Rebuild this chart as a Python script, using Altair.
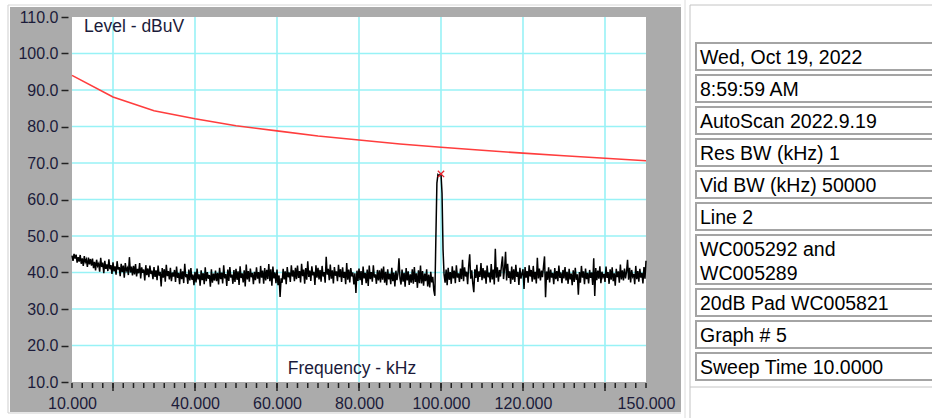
import altair as alt
import pandas as pd

# ---------------- data ----------------
limit_freq = [10, 20, 30, 40, 50, 60, 70, 80, 90, 100, 110, 120, 130, 140, 150]
limit_level = [94.0, 88.1, 84.3, 82.1, 80.2, 78.8, 77.4, 76.3, 75.2, 74.3, 73.5, 72.7, 72.0, 71.3, 70.6]

trace_start = 10.0
trace_step = 0.25
trace_level = [
    44.6, 43.2, 45.1, 43.8, 44.9, 42.7, 44.2, 43.0, 44.8, 42.4, 43.9, 41.8, 44.5, 42.9, 43.6, 41.5, 44.1, 42.2, 43.7, 41.9,
    43.8, 41.2, 42.9, 40.6, 43.5, 41.8, 42.4, 40.2, 44.0, 41.5, 42.7, 39.8, 43.2, 41.0, 42.2, 40.4, 43.6, 40.9, 42.0, 39.6,
    42.8, 40.3, 41.7, 39.4, 43.1, 40.8, 41.5, 39.0, 42.4, 40.1, 41.9, 38.6, 42.6, 40.5, 41.2, 39.3, 44.2, 40.0, 41.6, 39.2,
    41.8, 39.5, 42.3, 38.9, 41.0, 39.8, 42.6, 38.4, 41.4, 39.9, 40.8, 37.8, 42.0, 39.3, 41.1, 38.7, 41.9, 39.6, 40.5, 38.2,
    41.5, 38.8, 40.6, 37.9, 41.9, 39.1, 40.2, 36.2, 41.2, 38.6, 40.9, 37.5, 42.1, 39.0, 40.4, 38.1, 41.3, 37.6, 40.0, 38.9,
    40.7, 37.4, 41.6, 38.5, 39.9, 36.8, 41.0, 38.2, 40.3, 37.1, 42.4, 38.7, 39.6, 36.9, 40.8, 37.8, 41.2, 38.0, 39.4, 36.5,
    40.2, 37.3, 41.1, 38.1, 39.5, 36.4, 40.6, 37.9, 39.8, 36.8, 41.4, 37.6, 40.1, 38.3, 39.3, 36.1, 40.9, 37.2, 39.7, 37.8,
    40.5, 37.6, 39.9, 36.7, 41.3, 38.2, 40.0, 37.0, 42.0, 38.4, 39.6, 36.3, 40.8, 37.7, 41.5, 38.6, 39.4, 36.9, 40.7, 37.4,
    41.0, 38.0, 40.3, 36.6, 41.7, 38.5, 39.8, 37.3, 40.6, 36.2, 42.2, 38.1, 40.4, 37.5, 41.1, 38.7, 39.9, 36.8, 40.2, 37.9,
    41.4, 38.3, 40.1, 37.0, 41.8, 38.6, 40.5, 36.9, 41.2, 37.8, 40.7, 38.2, 42.3, 37.6, 40.9, 36.4, 41.6, 38.4, 40.0, 37.1,
    40.8, 36.5, 39.2, 33.3, 38.4, 37.2, 41.0, 38.1, 40.3, 36.8, 41.5, 38.7, 40.0, 37.4, 42.0, 38.9, 40.6, 37.6, 41.3, 38.2,
    41.9, 38.5, 40.4, 37.3, 42.4, 39.0, 40.8, 36.9, 41.2, 38.0, 43.1, 38.8, 40.5, 37.7, 41.7, 39.2, 40.2, 36.6, 42.0, 38.6,
    41.3, 38.1, 40.7, 37.5, 41.8, 38.9, 40.1, 37.2, 44.3, 39.4, 41.0, 37.9, 42.2, 38.3, 40.6, 37.0, 41.5, 39.1, 40.3, 37.6,
    42.1, 38.7, 40.9, 37.4, 41.4, 38.5, 40.2, 36.8, 42.6, 38.0, 40.8, 37.3, 41.2, 38.9, 40.0, 36.7, 39.8, 34.4, 40.5, 37.7,
    41.1, 37.9, 40.4, 36.6, 41.6, 38.4, 39.9, 37.1, 40.8, 36.3, 41.9, 38.2, 40.1, 37.5, 42.0, 38.6, 39.5, 36.9, 40.7, 37.8,
    40.6, 37.3, 41.1, 38.0, 41.6, 37.2, 40.2, 36.5, 40.9, 38.1, 39.7, 36.8, 41.3, 37.6, 40.0, 36.2, 40.5, 37.9, 39.6, 43.9,
    38.4, 36.7, 40.8, 37.5, 39.9, 36.1, 41.2, 37.8, 40.3, 36.6, 39.5, 37.2, 40.9, 36.9, 41.5, 37.4, 39.8, 35.8, 40.6, 37.1,
    41.9, 37.0, 40.4, 36.4, 39.7, 37.6, 40.9, 36.2, 39.4, 35.9, 40.2, 37.3, 38.8, 35.1, 33.6, 49.5, 64.5, 66.8, 66.5, 66.9,
    67.0, 61.7, 46.2, 39.4, 37.2, 40.8, 36.5, 41.3, 38.0, 40.1, 36.9, 41.7, 38.4, 40.5, 37.1, 42.0, 38.6, 39.8, 37.4, 41.1,
    38.2, 43.5, 37.6, 41.4, 38.9, 40.2, 36.8, 41.8, 45.0, 38.3, 40.6, 37.0, 34.6, 40.9, 38.5, 42.1, 37.4, 40.3, 38.8, 42.6,
    37.9, 41.2, 38.4, 40.6, 36.9, 41.9, 38.7, 40.0, 37.3, 42.3, 38.1, 40.8, 36.7, 46.5, 38.6, 41.4, 37.5, 40.7, 38.9, 42.0,
    44.4, 38.2, 41.0, 45.7, 37.8, 42.4, 38.5, 40.3, 36.9, 41.6, 38.0, 40.9, 37.4, 42.1, 38.8, 40.2, 36.6, 41.3, 38.3, 39.7,
    40.9, 35.5, 41.5, 38.6, 40.4, 37.2, 42.0, 38.9, 40.7, 37.5, 41.8, 38.1, 40.2, 37.0, 44.0, 38.4, 41.1, 37.8, 40.5, 38.7,
    41.6, 44.4, 33.2, 40.3, 38.0, 41.4, 37.3, 40.8, 38.6, 39.9, 36.8, 41.2, 38.2, 40.4, 37.6, 41.9, 38.5, 40.0, 37.1, 40.7,
    38.4, 41.5, 37.8, 40.2, 36.9, 41.0, 38.1, 39.7, 36.5, 40.6, 37.4, 41.3, 38.0, 39.5, 33.9, 40.1, 37.2, 41.8, 38.6, 40.3,
    36.8, 41.1, 38.2, 39.9, 37.0, 40.7, 38.5, 40.0, 36.6, 43.9, 33.6, 41.2, 37.9, 40.5, 38.3, 41.7, 37.1, 40.2, 38.8, 39.6,
    37.4, 41.6, 38.5, 40.1, 36.9, 40.9, 38.0, 41.4, 37.6, 39.8, 36.4, 41.0, 38.7, 40.3, 37.2, 42.2, 38.1, 40.6, 37.8, 41.1,
    38.4, 40.2, 43.5, 38.0, 41.3, 37.3, 40.7, 38.9, 39.6, 36.8, 41.8, 38.2, 40.4, 37.5, 41.0, 38.6, 39.9, 37.0, 41.5, 38.3,
    43.2,
]

peak_freq = [100.0]
peak_level = [67.0]

y_tick_values = [10, 20, 30, 40, 50, 60, 70, 80, 90, 100, 110]
y_grid_values = [20, 30, 40, 50, 60, 70, 80, 90, 100]
x_label_values = [10, 40, 60, 80, 100, 120, 150]
x_grid_values = [20, 40, 60, 80, 100, 120, 140]
x_minor_ticks = [10 + 2.5 * i for i in range(57)]

y_title = "Level - dBuV"
x_title = "Frequency - kHz"

info_rows = [
    "Wed, Oct 19, 2022",
    "8:59:59 AM",
    "AutoScan 2022.9.19",
    "Res BW (kHz) 1",
    "Vid BW (kHz) 50000",
    "Line 2",
    "WC005292 and\nWC005289",
    "20dB Pad WC005821",
    "Graph # 5",
    "Sweep Time 10.0000",
]

# ---------------- styling ----------------
CYAN = "#98f2f6"
FRAME = "#ababab"
LABEL = "#1b1b3a"
FONT = "Liberation Sans"

W, H = 574, 365
PAD = {"left": 72, "top": 17, "right": 932 - 72 - W, "bottom": 418 - 17 - H}

xs = alt.Scale(domain=[10, 150], nice=False, zero=False)
ys = alt.Scale(domain=[10, 110], nice=False, zero=False)

trace_df = pd.DataFrame({
    "freq": [trace_start + trace_step * i for i in range(len(trace_level))],
    "level": trace_level,
})
limit_df = pd.DataFrame({"freq": limit_freq, "level": limit_level})
peak_df = pd.DataFrame({"freq": peak_freq, "level": peak_level})

x_axis = alt.Axis(values=x_label_values, format=".3f", grid=False, domain=False,
                  ticks=True, tickSize=0, labelPadding=13, labelFont=FONT,
                  labelFontSize=16, labelColor=LABEL, labelFlush=False,
                  labelOverlap=False, labelBound=False, title=None)
y_axis = alt.Axis(values=y_tick_values, format=".1f", grid=False, domain=False,
                  ticks=True, tickSize=7, tickWidth=1.5, tickColor="#222222",
                  offset=4, labelPadding=3, labelFont=FONT, labelFontSize=16,
                  labelColor=LABEL, labelFlush=False, labelOverlap=False,
                  labelBound=False, title=None)


def X(field):
    return alt.X(field, scale=xs, axis=x_axis)


def Y(field):
    return alt.Y(field, scale=ys, axis=y_axis)


trace = alt.Chart(trace_df).mark_line(color="black", strokeWidth=1.5).encode(
    x=X("freq:Q"), y=Y("level:Q"))

grid_x = alt.Chart(pd.DataFrame({"f": x_grid_values})).mark_rule(
    color=CYAN, strokeWidth=1.6).encode(x=X("f:Q"))
grid_y = alt.Chart(pd.DataFrame({"v": y_grid_values})).mark_rule(
    color=CYAN, strokeWidth=1.6).encode(y=Y("v:Q"))

limit = alt.Chart(limit_df).mark_line(color="#ff3d3d", strokeWidth=1.6).encode(
    x=X("freq:Q"), y=Y("level:Q"))

peak = alt.Chart(peak_df).mark_point(
    shape="M-1,-1L1,1M1,-1L-1,1", filled=False, color="#e8202a",
    size=40, strokeWidth=1.3, opacity=1).encode(x=X("freq:Q"), y=Y("level:Q"))

title_y = alt.Chart(pd.DataFrame({"t": [y_title]})).mark_text(
    align="left", baseline="middle", font=FONT, fontSize=17.5, color=LABEL).encode(
    x=alt.value(12), y=alt.value(10), text="t:N")
title_x = alt.Chart(pd.DataFrame({"t": [x_title]})).mark_text(
    align="center", baseline="middle", font=FONT, fontSize=17.5, color=LABEL).encode(
    x=alt.value(280), y=alt.value(352), text="t:N")

minor = alt.Chart(pd.DataFrame({"f": x_minor_ticks})).mark_rule(
    color="#222222", strokeWidth=1.5).encode(
    x=X("f:Q"), y=alt.value(H + 1), y2=alt.value(H + 6))
major = alt.Chart(pd.DataFrame({"f": x_grid_values})).mark_rule(
    color="#222222", strokeWidth=1.5).encode(
    x=X("f:Q"), y=alt.value(H + 1), y2=alt.value(H + 9))

one = pd.DataFrame({"k": [0]})


def rect(x0, x1, y0, y1, fill):
    return alt.Chart(one).mark_rect(fill=fill).encode(
        x=alt.value(x0), x2=alt.value(x1), y=alt.value(y0), y2=alt.value(y1))


def line(x0, x1, y0, y1, color):
    return alt.Chart(one).mark_rule(color=color, strokeWidth=1).encode(
        x=alt.value(x0), x2=alt.value(x1), y=alt.value(y0), y2=alt.value(y1))


L, T = PAD["left"], PAD["top"]
margins = [
    rect(-L, -L + 10, -T, 418 - T, "white"),          # left strip
    rect(-L, 681 - L, -T, 7 - T, "white"),            # top strip
    rect(-L, 681 - L, 412 - T, 418 - T, "white"),     # bottom strip
    rect(681 - L, 932 - L, -T, 418 - T, "white"),     # right panel
    line(8 - L, 8 - L, 5 - T, 413 - T, "#cfcfcf"),
    line(8 - L, 681 - L, 5 - T, 5 - T, "#d6d6d6"),
    line(8 - L, 681 - L, 413 - T, 413 - T, "#cfcfcf"),
    line(685 - L, 685 - L, -T, 418 - T, "#dcdcdc"),
    line(690 - L, 690 - L, 5 - T, 418 - T, "#c4c4c4"),
    line(690 - L, 932 - L, 5 - T, 5 - T, "#c4c4c4"),
    line(690 - L, 932 - L, 387 - T, 387 - T, "#c4c4c4"),
]

# info panel rows
rows = []
ytop = 43
for s in info_rows:
    n = s.count("\n") + 1
    h = 27 + 22 * (n - 1)
    rows.append({"label": s, "y0": ytop - T, "y1": ytop - T + h, "ty": ytop - T + 21})
    ytop += h + 5
rows_df = pd.DataFrame(rows)

boxes = alt.Chart(rows_df).mark_rect(fill="white", stroke="#a4a4a4", strokeWidth=2).encode(
    x=alt.value(696 - L), x2=alt.value(945 - L),
    y=alt.Y("y0:Q", scale=None, axis=None), y2="y1:Q")
box_text = alt.Chart(rows_df).mark_text(
    align="left", baseline="alphabetic", font=FONT, fontSize=19.5, color="black",
    lineBreak="\n", lineHeight=24).encode(
    x=alt.value(700 - L), y=alt.Y("ty:Q", scale=None, axis=None), text="label:N")

chart = alt.layer(
    grid_x, grid_y, limit, trace, peak, title_y, title_x, minor, major,
    *margins, boxes, box_text,
).properties(
    width=W, height=H,
    autosize=alt.AutoSizeParams(type="none"),
    padding=PAD,
    background=FRAME,
).configure_view(fill="white", strokeWidth=0)

chart.save("out.html", embed_options={"renderer": "svg", "actions": False})
